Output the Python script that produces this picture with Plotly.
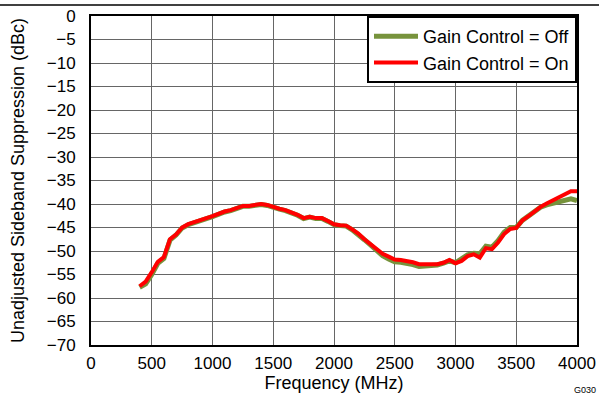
import plotly.graph_objects as go

# frequency points (MHz)
freq = [400, 450, 500, 550, 600, 650, 700, 750, 800, 850, 900, 950,
        1000, 1050, 1100, 1150, 1200, 1250, 1300, 1350, 1400, 1450, 1500, 1550,
        1600, 1650, 1700, 1750, 1800, 1850, 1900, 1950, 2000, 2050, 2100, 2150,
        2200, 2250, 2300, 2350, 2400, 2450, 2500, 2550, 2600, 2650, 2700, 2750,
        2800, 2850, 2900, 2950, 3000, 3050, 3100, 3150, 3200, 3250, 3300, 3350,
        3400, 3450, 3500, 3550, 3600, 3650, 3700, 3750, 3800, 3850, 3900, 3950, 4000]

# gain control off
sup_off = [-57.7, -57.0, -55.0, -52.6, -51.6, -47.7, -46.6, -45.1, -44.4, -43.9, -43.5, -43.1,
           -42.7, -42.1, -41.7, -41.4, -41.0, -40.5, -40.5, -40.3, -40.1, -40.3, -40.8, -41.1,
           -41.4, -41.8, -42.4, -43.1, -42.8, -43.1, -43.1, -43.7, -44.4, -44.6, -44.7, -45.5,
           -46.4, -47.6, -48.7, -49.8, -51.0, -51.7, -52.3, -52.4, -52.6, -52.9, -53.3, -53.2,
           -53.2, -53.0, -52.6, -52.1, -52.5, -51.7, -50.8, -50.5, -50.6, -49.0, -49.2, -47.8,
           -46.0, -45.0, -45.0, -43.5, -42.6, -41.6, -40.7, -40.2, -39.9, -39.7, -39.3, -38.9, -39.3]

# gain control on
sup_on = [-57.5, -56.5, -54.5, -52.3, -51.3, -47.5, -46.5, -45.0, -44.3, -43.8, -43.4, -43.0,
          -42.6, -42.0, -41.6, -41.3, -40.9, -40.4, -40.4, -40.2, -40.0, -40.2, -40.7, -41.0,
          -41.3, -41.7, -42.3, -43.0, -42.7, -43.0, -43.0, -43.6, -44.3, -44.5, -44.6, -45.4,
          -46.3, -47.5, -48.6, -49.6, -50.6, -51.2, -51.8, -51.9, -52.1, -52.4, -52.8, -52.8,
          -52.9, -52.8, -52.5, -51.9, -52.6, -52.1, -51.1, -50.7, -51.4, -49.4, -49.6, -48.2,
          -46.4, -45.3, -45.1, -43.5, -42.6, -41.6, -40.6, -39.9, -39.2, -38.6, -38.0, -37.3, -37.3]

FONT = "Liberation Sans, Arial, sans-serif"

fig = go.Figure()
fig.add_trace(go.Scatter(x=freq, y=sup_off, mode="lines", name="Gain Control = Off",
                         line=dict(color="#77933C", width=5)))
fig.add_trace(go.Scatter(x=freq, y=sup_on, mode="lines", name="Gain Control = On",
                         line=dict(color="#FF0000", width=4)))

fig.update_layout(
    width=599, height=394, autosize=False,
    margin=dict(l=91, r=22, t=16, b=49),
    paper_bgcolor="white", plot_bgcolor="white",
    font=dict(family=FONT, color="black", size=17),
    legend=dict(x=1, y=1, xanchor="right", yanchor="top",
                bgcolor="white", bordercolor="black", borderwidth=2,
                font=dict(size=18), itemwidth=44, tracegroupgap=0),
    showlegend=True,
)
fig.update_xaxes(range=[0, 4000], dtick=500, tick0=0, automargin=False,
                 showgrid=True, gridcolor="#666666", gridwidth=1,
                 showline=True, linecolor="black", linewidth=2, mirror=True,
                 ticks="", ticklabelstandoff=2,
                 title=dict(text="Frequency (MHz)", font=dict(size=18), standoff=2))
fig.update_yaxes(range=[-70, 0], dtick=5, tick0=0, automargin=False,
                 showgrid=True, gridcolor="#666666", gridwidth=1,
                 showline=True, linecolor="black", linewidth=2, mirror=True,
                 ticks="", ticklabelstandoff=10,
                 title=dict(text="Unadjusted Sideband Suppression (dBc)", font=dict(size=18), standoff=17))

# thin rule across the top of the image
fig.add_shape(type="line", xref="paper", yref="paper", layer="above",
              x0=-0.2, x1=1.1, y0=1 + 11 / 329, y1=1 + 11 / 329,
              line=dict(color="black", width=1.5))

fig.add_annotation(text="G030", xref="paper", yref="paper",
                   x=(585 - 91) / 486, y=1 - (390 - 16) / 329,
                   xanchor="center", yanchor="middle", showarrow=False,
                   font=dict(size=9, color="black"))

# drop the default page margin so the figure sits at the window's corner
fig.write_html("out.html", config={"displayModeBar": False},
               post_script="document.body.style.margin='0';")
